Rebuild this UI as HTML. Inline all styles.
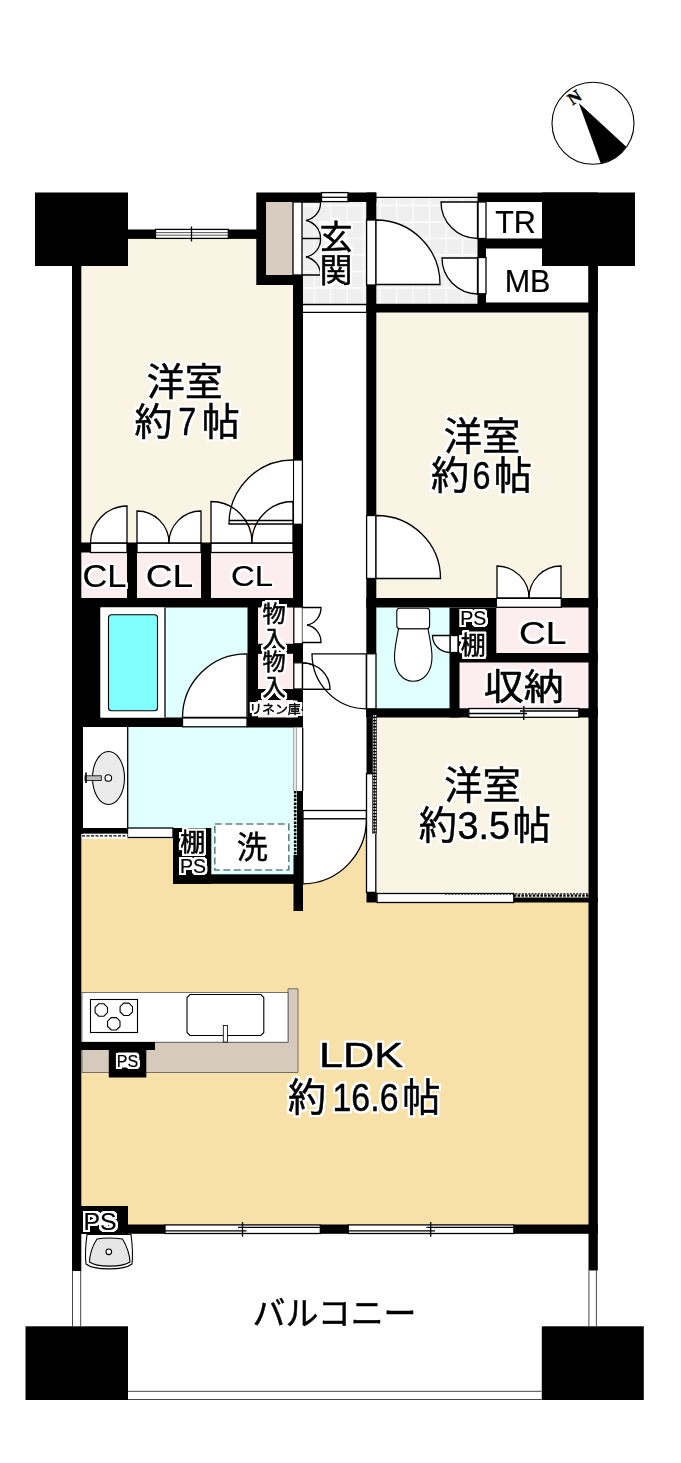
<!DOCTYPE html>
<html lang="ja">
<head>
<meta charset="utf-8">
<title>間取り図</title>
<style>
html,body{margin:0;padding:0;background:#fff;}
body{width:681px;height:1463px;overflow:hidden;}
svg{display:block;}
.jp{font-family:"Liberation Sans","Noto Sans CJK JP",sans-serif;fill:#000;stroke:#000;stroke-width:0.5px;stroke-linejoin:round;}
.la{stroke-width:0.2px;}
.dg{stroke-width:0.45px;}
.lt{stroke-width:0.45px;}
.md{stroke-width:0.55px;}
.w{fill:#000;}
.t{fill:#fff;stroke:#000;stroke-width:1.3;}
.l{fill:none;stroke:#000;stroke-width:1.3;}
</style>
</head>
<body>
<svg width="681" height="1463" viewBox="0 0 681 1463">
<defs>
<pattern id="tile" width="16.500" height="16.500" patternUnits="userSpaceOnUse" x="379.300" y="204.500">
<rect width="16.500" height="16.500" fill="#efefef"/>
<path d="M0 0.800H16.500M0.800 0V16.500" stroke="#fbfbfb" stroke-width="1.600" fill="none"/>
</pattern>
<filter id="halo" x="0" y="0" width="681" height="1463" filterUnits="userSpaceOnUse" color-interpolation-filters="sRGB">
<feMorphology in="SourceAlpha" operator="dilate" radius="2" result="d"/>
<feGaussianBlur in="d" stdDeviation="0.6" result="b"/>
<feComponentTransfer in="b" result="a"><feFuncA type="linear" slope="2.2" intercept="0"/></feComponentTransfer>
<feFlood flood-color="#fff" result="f"/>
<feComposite in="f" in2="a" operator="in" result="h"/>
<feMerge><feMergeNode in="h"/><feMergeNode in="SourceGraphic"/></feMerge>
</filter>
<filter id="halo2" x="0" y="0" width="681" height="1463" filterUnits="userSpaceOnUse" color-interpolation-filters="sRGB">
<feMorphology in="SourceAlpha" operator="dilate" radius="1.5" result="d"/>
<feGaussianBlur in="d" stdDeviation="0.5" result="b"/>
<feComponentTransfer in="b" result="a"><feFuncA type="linear" slope="2.2" intercept="0"/></feComponentTransfer>
<feFlood flood-color="#fff" result="f"/>
<feComposite in="f" in2="a" operator="in" result="h"/>
<feMerge><feMergeNode in="h"/><feMergeNode in="SourceGraphic"/></feMerge>
</filter>
</defs>
<rect width="681" height="1463" fill="#fff"/>
<!-- FLOORS -->
<g id="floors">
<rect x="80" y="238" width="214" height="306" fill="#faf4e4"/>
<rect x="80" y="552" width="214" height="47" fill="#fceeee"/>
<rect x="302" y="201" width="66" height="103" fill="url(#tile)"/>
<rect x="375" y="197.300" width="104" height="107" fill="url(#tile)"/>
<rect x="375" y="312" width="215" height="287" fill="#faf4e4"/>
<rect x="495" y="607" width="95" height="47" fill="#fceeee"/>
<rect x="458" y="662" width="132" height="47" fill="#fceeee"/>
<rect x="375" y="607" width="76" height="103" fill="#e0ffff"/>
<rect x="164" y="607" width="85" height="111" fill="#e0ffff"/>
<rect x="257" y="606" width="38" height="112" fill="#fceeee"/>
<rect x="127" y="726" width="167" height="103" fill="#e0ffff"/>
<rect x="210" y="726" width="88" height="149" fill="#e0ffff"/>
<rect x="375" y="717" width="215" height="177" fill="#faf4e4"/>
<path d="M80 838.5H174V883H302V818H368V902H590V1225H80Z" fill="#f8e1a8"/>
</g>
<!-- WALLS -->
<g id="walls" class="w">
<rect x="35" y="192.5" width="93" height="73.5"/>
<rect x="542" y="192.5" width="93" height="73.5"/>
<rect x="25.5" y="1326.3" width="102.5" height="73.7"/>
<rect x="541.8" y="1326.3" width="102" height="73.7"/>
<!-- outer side walls -->
<rect x="72" y="260" width="9.3" height="1011"/>
<rect x="588.5" y="260" width="9.3" height="1010.5"/>
<!-- room1 top wall -->
<rect x="120" y="229.5" width="35.5" height="9.4"/>
<rect x="228.8" y="229.5" width="30" height="9.4"/>
<!-- shoe closet box -->
<path d="M256.3 192.5H322V202H266V275H303V285H256.3Z"/>
<!-- genkan top wall right of window -->
<rect x="348" y="192.5" width="28.3" height="9.5"/>
<!-- wall room1/hall -->
<rect x="293" y="275" width="10" height="185"/>
<rect x="293" y="524.3" width="10" height="83"/>
<rect x="293" y="643.8" width="10" height="18.7"/>
<rect x="293" y="689" width="10" height="38.5"/>
<!-- genkan right wall / room2 left wall -->
<rect x="366.3" y="192.5" width="10" height="27.5"/>
<rect x="366.3" y="285" width="10" height="230.5"/>
<rect x="366.3" y="578.5" width="10" height="75.3"/>
<rect x="366.3" y="708.8" width="10" height="8.7"/>
<!-- TR / MB box -->
<path d="M477.5 192.5H597.8V312.5H366.3V303.8H477.5V293.8H486V302.5H588.5V248.5H486V257.5H477.5V238.5H542V202H477.5Z"/>
<!-- room1 CL row -->
<rect x="72" y="598" width="231" height="9.5"/>
<rect x="81" y="542.5" width="9.5" height="10"/>
<rect x="127" y="542.5" width="10" height="56"/>
<rect x="201" y="542.5" width="10" height="56"/>
<!-- bath -->
<rect x="72" y="598" width="28.5" height="129"/>
<rect x="72" y="717.5" width="110.5" height="9.5"/>
<rect x="247" y="717.5" width="56" height="10"/>
<rect x="247.5" y="598" width="10.5" height="129"/>
<rect x="258" y="643.8" width="36" height="10"/>
<rect x="258" y="689" width="36" height="11"/>
<!-- room2 bottom wall -->
<rect x="366.3" y="598" width="130" height="9.5"/>
<rect x="561.3" y="598" width="36.5" height="9.5"/>
<!-- PS/shelf block + toilet right wall -->
<path d="M449.5 607.5H496.3V653H597.8V662.5H459.5V717.5H449.5V652.5H458V635.5H449.5Z"/>
<!-- storage bottom wall -->
<rect x="366.3" y="708.3" width="102.5" height="9.2"/>
<rect x="578.8" y="708.3" width="19" height="9.2"/>
<!-- room3 left wall -->
<rect x="366.500" y="717.500" width="5.800" height="56.200"/>
<rect x="366.500" y="892.300" width="10.300" height="10.200"/>
<rect x="513.8" y="897.5" width="84" height="5"/>
<!-- washroom -->
<rect x="82" y="828" width="45.5" height="5.8"/>
<rect x="72" y="717" width="11" height="117"/>
<rect x="173" y="828" width="38.3" height="55.8"/>
<rect x="173" y="874.3" width="130" height="9.5"/>
<rect x="297" y="791" width="6" height="120"/>
<rect x="293.5" y="855" width="9.5" height="56"/>
<!-- LDK bottom wall -->
<rect x="72" y="1206" width="56" height="27.8"/>
<rect x="72" y="1224.5" width="93" height="9.3"/>
<rect x="320.3" y="1224.5" width="28" height="9.3"/>
<rect x="513.8" y="1224.5" width="84" height="9.3"/>
</g>
<!-- DOORS / OPENINGS -->
<g id="doors">
<!-- shoe closet -->
<rect x="266" y="202" width="27" height="73" fill="#d8ccc0"/>
<rect x="293" y="202" width="9" height="73" class="t"/>
<path d="M302 202H320.5A18 18 0 0 1 306 220.5 A18 18 0 0 1 320.5 238.5H302 M320.5 238.5A18 18 0 0 1 306 257 A18 18 0 0 1 320.5 275H302 M302 238.5H320.5" class="l"/>
<!-- genkan step lines -->
<path d="M303 304.5H366.3M303 312.3H366.3" class="l"/>
<!-- windows top -->
<rect x="155.500" y="229.400" width="72.800" height="9" class="t"/>
<path d="M155.500 232.600H228.300M155.500 235.200H228.300" stroke="#444" stroke-width="0.900" fill="none"/>
<path d="M191.500 226.500V241.400" class="l"/>
<rect x="321.500" y="192.600" width="26.500" height="9" class="t"/>
<path d="M321.500 197.300H348" class="l"/>
<path d="M376 197.300H477.500" class="l"/>
<!-- genkan entrance door -->
<rect x="366.6" y="220" width="9.4" height="65" class="t"/>
<path d="M376 220A64 64 0 0 1 440 284.5H376Z" class="t"/>
<!-- TR / MB doors -->
<rect x="478" y="202" width="8" height="36.5" class="t"/>
<path d="M477.5 202H441A36.5 36.5 0 0 0 477.5 238.5Z" class="t"/>
<rect x="478" y="257.5" width="8" height="36.3" class="t"/>
<path d="M477.5 258H442A36 36 0 0 0 477.5 294Z" class="t"/>
<!-- room1 door -->
<rect x="293.4" y="460" width="9" height="64.3" class="t"/>
<path d="M293 460A64 64 0 0 0 229 524H293Z" fill="#fff"/>
<!-- room1 closets -->
<rect x="90.5" y="543" width="36.5" height="9.5" class="t"/>
<path d="M127 543V506A37 37 0 0 0 90.5 543Z" class="t"/>
<rect x="137" y="543" width="64" height="9.5" class="t"/>
<path d="M137 543V511A32 32 0 0 1 169 543Z" class="t"/>
<path d="M201 543V511A32 32 0 0 0 169 543Z" class="t"/>
<rect x="211" y="543" width="82" height="9.5" class="t"/>
<path d="M211 543V501.5A41 41 0 0 1 252 543Z" class="t"/>
<path d="M293 543V501.5A41 41 0 0 0 252 543Z" class="t"/>
<path d="M293 460A64 64 0 0 0 229 524H293M229 520.500H293" class="l"/>
<!-- room2 door -->
<rect x="366.6" y="515.5" width="9.4" height="63" class="t"/>
<path d="M376 515.5A64 63 0 0 1 440.5 578.5H376Z" class="t"/>
<!-- room2 closet -->
<rect x="496.3" y="598.3" width="65" height="9" class="t"/>
<path d="M497 598V566A32 32 0 0 1 529 598Z" class="t"/>
<path d="M561 598V566A32 32 0 0 0 529 598Z" class="t"/>
<!-- mono-ire closets -->
<rect x="293.8" y="607" width="8.7" height="36.8" class="t"/>
<path d="M302.5 607.5H321A17.5 17.5 0 0 1 307 625 A17.5 17.5 0 0 1 321 642.5H302.5" class="t"/>
<rect x="293.8" y="662.8" width="8.7" height="26.2" class="t"/>
<path d="M302.5 662.800A27.500 26.500 0 0 1 330 689.300H302.500Z" class="t"/>
<!-- toilet door -->
<rect x="366.6" y="653.8" width="9.4" height="55" class="t"/>
<path d="M366.3 653.8H312A54.5 55 0 0 0 366.3 708.8Z" class="t"/>
<path d="M302.500 662.800A27.500 26.500 0 0 1 330 689.300H302.500" class="l"/>
<!-- PS small door -->
<rect x="450" y="635.5" width="8" height="17" class="t"/>
<path d="M450 635.5H432.5A17.5 17 0 0 0 450 652.5Z" class="t"/>
<!-- bathroom door -->
<rect x="182.5" y="717.8" width="64.5" height="9" class="t"/>
<path d="M247 717.5V653.8A64 64 0 0 0 182.5 717.5Z" class="t"/>
<!-- storage sliding door -->
<rect x="468.8" y="708.5" width="110" height="8.8" class="t"/>
<path d="M468.8 713.5H527M520 711H578.8M523.8 706V720" class="l"/>
<!-- hall -> LDK door -->
<rect x="303" y="810.5" width="63.5" height="8.3" class="t"/>
<path d="M303 818.8H366.5A64 65 0 0 1 303 883.8Z" class="t"/>
<!-- room 3 sliding -->
<rect x="366.500" y="773.700" width="9.300" height="118.700" class="t"/>
<rect x="372.300" y="714.300" width="4.500" height="119.400" fill="#000"/>
<path d="M373.800 715V833.700M375.700 715V833.700" stroke="#fff" stroke-width="1.100" stroke-dasharray="1.800 1.300" fill="none"/>
<rect x="377" y="893.5" width="136.8" height="9" class="t"/>
<path d="M445 893.8H588.5" class="l" stroke-dasharray="2 1.2"/>
<path d="M513.8 895.6H588.5" stroke="#000" stroke-width="2.4" stroke-dasharray="2.5 1.3" fill="none"/>
<!-- washroom sliding door -->
<rect x="293.5" y="727.5" width="9.5" height="63.5" fill="#fff"/>
<path d="M293.8 727.5V791M296.3 727.5V791" stroke="#777" stroke-width="0.8" fill="none"/>
<path d="M302.7 727.5V791" class="l"/>
<path d="M295.2 791V855" stroke="#000" stroke-width="2.6" stroke-dasharray="2.5 1.3" fill="none"/>
<!-- washroom bottom-left -->
<rect x="127.5" y="828" width="45.5" height="9.5" class="t"/>
<rect x="82" y="833.8" width="45.5" height="4.8" fill="#fff"/>
<path d="M82 835.8H127.5" class="l" stroke-dasharray="3 1.5"/>
<!-- LDK windows -->
<rect x="165" y="1224.9" width="155.3" height="8.6" class="t"/>
<path d="M165 1230.8H246.5M238 1227.4H320.3M242.5 1222V1236.8" class="l"/>
<rect x="348.3" y="1224.9" width="165.5" height="8.6" class="t"/>
<path d="M348.3 1230.8H435M426.5 1227.4H513.8M430.7 1222V1236.8" class="l"/>
<!-- balcony rails -->
<path d="M72.5 1271V1326.3M80.7 1271V1326.3M588.9 1270.5V1326.3M596.4 1270.5V1326.3M128 1391.3H541.8M128 1399.5H541.8" stroke="#333" stroke-width="0.9" fill="none"/>
</g>
<!-- FIXTURES -->
<g id="fixtures">
<!-- bathtub -->
<rect x="100.5" y="607.5" width="64.5" height="110" fill="#fff"/>
<path d="M165 607.5V717.5" class="l"/>
<rect x="108.5" y="614.8" width="49" height="96" rx="3" ry="3" fill="#80ffff" stroke="#000" stroke-width="1.1"/>
<!-- washstand -->
<rect x="83" y="727" width="44.500" height="101" fill="#fff"/>
<path d="M127.7 727V828" class="l"/>
<ellipse cx="108.5" cy="778" rx="16" ry="26.5" fill="#ebebeb" stroke="#000" stroke-width="1.1"/>
<circle cx="108.3" cy="778" r="3.3" fill="#fff" stroke="#000" stroke-width="1.1"/>
<rect x="85" y="775.8" width="16.3" height="4.6" fill="#bbb" stroke="#000" stroke-width="0.8"/>
<path d="M86 772.5V783" stroke="#000" stroke-width="1.6" fill="none"/>
<!-- toilet -->
<path d="M398.5 628.8C396.5 640 394.5 648 394.5 657C394.5 671 402 681.3 413.3 681.3C424.500 681.3 432 671 432 657C432 648 430 640 428 628.8Z" fill="#fff" stroke="#000" stroke-width="1.1"/>
<rect x="396.8" y="608.3" width="32.8" height="20.5" rx="3" ry="3" fill="#fff" stroke="#000" stroke-width="1.1"/>
<!-- washing machine -->
<rect x="214.800" y="824" width="74" height="46" fill="#fff" stroke="#6b7f7f" stroke-width="1.600" stroke-dasharray="7 3.500"/>
<!-- kitchen -->
<path d="M82 1042.3H288V988.8H298V1072.5H82Z" fill="#d6cabc" stroke="#555" stroke-width="0.8"/>
<rect x="82" y="992.5" width="206" height="49.7" fill="#fff" stroke="#555" stroke-width="0.8"/>
<rect x="90.5" y="999.5" width="47" height="33" fill="#fff" stroke="#000" stroke-width="1.1"/>
<g fill="#fff" stroke="#000" stroke-width="1.1">
<path id="oct" d="M-2.6 -6.2H2.6L6.2 -2.6V2.6L2.6 6.2H-2.6L-6.2 2.6V-2.6Z" transform="translate(101.3 1010)"/>
<path d="M-2.6 -6.2H2.6L6.2 -2.6V2.6L2.6 6.2H-2.6L-6.2 2.6V-2.6Z" transform="translate(126.3 1009.3)"/>
<path d="M-2.6 -6.2H2.6L6.2 -2.6V2.6L2.6 6.2H-2.6L-6.2 2.6V-2.6Z" transform="translate(113.8 1023.8)"/>
</g>
<path d="M190 994.5H260.8L263.8 997.5V1032.5L260.8 1035.5H190L187 1032.5V997.500Z" fill="#fff" stroke="#000" stroke-width="1.1"/>
<rect x="223.300" y="1025.5" width="4.2" height="16.5" fill="#fff" stroke="#000" stroke-width="0.8"/>
<rect x="81" y="1042" width="74" height="8" class="w"/>
<rect x="108.8" y="1042" width="37.500" height="35.500" class="w"/>
<rect x="117" y="1052.500" width="21" height="15" rx="1.500" fill="#fff"/>
<!-- slop sink -->
<path d="M87 1234.5H131C132.5 1246 133 1256 132 1264C124 1270.500 94 1270.500 86 1264C85 1256 85.500 1246 87 1234.500Z" fill="#fff" stroke="#000" stroke-width="1.1"/>
<path d="M97 1239C104 1237.800 114 1237.800 122.500 1239C127 1246 130 1256 130 1262C122 1267.500 97 1267.500 89.500 1262C89.500 1256 92 1246 97 1239Z" fill="#e6e6e6" stroke="#000" stroke-width="1.1"/>
<circle cx="108.8" cy="1251.8" r="2.8" fill="#fff" stroke="#000" stroke-width="1.1"/>
<!-- compass -->
<circle cx="593" cy="123.300" r="41" fill="#fff" stroke="#000" stroke-width="1.1"/>
<path d="M578.8 103L626.300 146.800A41 41 0 0 1 600.800 163.500Z" fill="#000"/>
</g>
<!-- TEXT -->
<g id="labels" class="jp" text-anchor="middle" filter="url(#halo)">
<text x="184.800" y="395" font-size="38">洋室</text>
<text x="153.400" y="434.500" font-size="38">約</text>
<text x="187.300" y="435" font-size="38.200" class="dg" textLength="18" lengthAdjust="spacingAndGlyphs">7</text>
<text x="220.800" y="434.500" font-size="38">帖</text>
<text x="482" y="449.500" font-size="38.200">洋室</text>
<text x="450.100" y="488.500" font-size="38.200">約</text>
<text x="481.500" y="488.500" font-size="38.200" class="dg" textLength="18" lengthAdjust="spacingAndGlyphs">6</text>
<text x="512.800" y="488.500" font-size="38.200">帖</text>
<text x="482.500" y="799" font-size="38.200">洋室</text>
<text x="437.900" y="838.700" font-size="38.200">約</text>
<text x="483.700" y="838.700" font-size="38.200" class="dg" textLength="52.500" lengthAdjust="spacingAndGlyphs">3.5</text>
<text x="531.500" y="838.700" font-size="38.200">帖</text>
<text x="361" y="1067.400" font-size="35.500" textLength="84" lengthAdjust="spacingAndGlyphs" class="lt">LDK</text>
<text x="307.100" y="1110.500" font-size="38.200">約</text>
<text x="365.500" y="1110.500" font-size="38.200" class="dg" textLength="66" lengthAdjust="spacingAndGlyphs">16.6</text>
<text x="421.300" y="1110.500" font-size="38.200">帖</text>
<text x="334.500" y="1324.500" font-size="33" textLength="164" lengthAdjust="spacingAndGlyphs" class="lt">バルコニー</text>
<text x="336" y="248.500" font-size="33">玄</text>
<text x="336" y="282" font-size="33">関</text>
<text x="523.800" y="700" font-size="36" textLength="80" lengthAdjust="spacingAndGlyphs">収納</text>
<text x="252.300" y="858" font-size="31" class="lt">洗</text>
</g>
<g id="labels2" class="jp md" text-anchor="middle" filter="url(#halo2)">
<text x="515.500" y="233" font-size="30.500" class="la">TR</text>
<text x="527.500" y="291.500" font-size="30.500" class="la">MB</text>
<text x="104.500" y="587.300" font-size="32" textLength="44" lengthAdjust="spacingAndGlyphs" class="la">CL</text>
<text x="169.400" y="587.300" font-size="32" textLength="47.500" lengthAdjust="spacingAndGlyphs" class="la">CL</text>
<text x="252" y="586" font-size="29" textLength="42" lengthAdjust="spacingAndGlyphs" class="la">CL</text>
<text x="542.700" y="643.500" font-size="32" textLength="47.500" lengthAdjust="spacingAndGlyphs" class="la">CL</text>
<text x="473.300" y="625" font-size="19.500" class="la">PS</text>
<text x="473.300" y="654" font-size="25">棚</text>
<text x="192.800" y="850.500" font-size="25">棚</text>
<text x="193" y="873" font-size="19.500" class="la">PS</text>
<text x="274" y="621.900" font-size="23.200">物</text>
<text x="274" y="647.100" font-size="23.200">入</text>
<text x="274" y="670.300" font-size="23.200">物</text>
<text x="274" y="695.300" font-size="23.200">入</text>
<text x="275" y="713.800" font-size="12.500" textLength="51.500" lengthAdjust="spacingAndGlyphs" class="lt">リネン庫</text>
<text x="127.500" y="1066.500" font-size="16" class="la">PS</text>
<text x="100" y="1229.800" font-size="24.800" class="la">PS</text>
</g>
<text transform="translate(574.300 97.300) rotate(-34)" x="0" y="6" font-size="17.500" text-anchor="middle" font-family="'Liberation Serif',serif" font-weight="bold" fill="#000" stroke="#000" stroke-width="0.400">N</text>

</svg>
</body>
</html>
